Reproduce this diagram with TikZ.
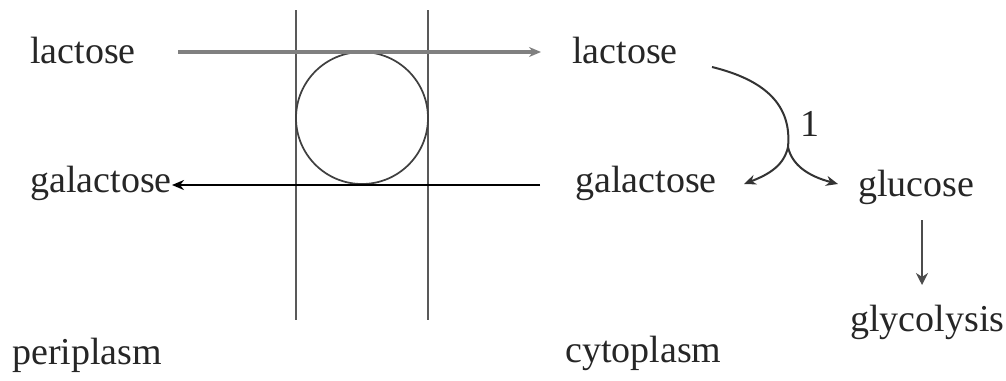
\documentclass[tikz,border=0pt]{standalone}
\usepackage{fontspec}
\setmainfont{Liberation Serif}
\usetikzlibrary{arrows.meta}
\begin{document}
\begin{tikzpicture}[x=0.75pt,y=-0.75pt,
  lbl/.style={anchor=west,inner sep=0pt,text=black!85,font=\fontsize{28.5}{32}\selectfont},
  tip/.style={-{Stealth[length=9pt,width=7.5pt]}},
  membrane/.style={draw=black!65,line width=2pt},
]
\useasboundingbox (0,0) rectangle (1006,380);
% texts
\node[lbl] (lacL) at (30,50) {lactose};
\node[lbl] (galL) at (30,183) {galactose};
\node[lbl] (lacR) at (572,50) {lactose};
\node[lbl] (galR) at (575,183) {galactose};
\node[lbl] (glu) at (858,187) {glucose};
\node[lbl] (gly) at (850,322) {glycolysis};
\node[lbl] (peri) at (12,355) {periplasm};
\node[lbl] (cyto) at (565,353) {cytoplasm};
\node[lbl,anchor=center] (one) at (810,124) {1};
% membrane
\coordinate (m1t) at (296,10); \coordinate (m1b) at (296,320);
\coordinate (m2t) at (428,10); \coordinate (m2b) at (428,320);
\draw[membrane] (m1t) -- (m1b);
\draw[membrane] (m2t) -- (m2b);
\node[draw=black!75,line width=1.3pt,circle,minimum size=132*0.75pt,inner sep=0pt] (carrier) at (362,118) {};
% transport arrows
\coordinate (a1s) at (178,52); \coordinate (a1e) at (541,52);
\draw[tip,draw=black!50,fill=black!50,line width=3pt] (a1s) -- (a1e);
\coordinate (a2s) at (540,185); \coordinate (a2e) at (172,185);
\draw[tip,draw=black,line width=2pt] (a2s) -- (a2e);
% hydrolysis
\coordinate (cs) at (712,67);
\coordinate (cj) at (788,147);
\coordinate (tl) at (744,184);
\coordinate (tr) at (838,184);
\draw[black!80,line width=1.5pt] (cs) .. controls (765,80) and (792,105) .. (cj);
\draw[tip,black!80,line width=1.5pt] (cj) .. controls (784,165) and (770,174) .. (tl);
\draw[tip,black!80,line width=1.5pt] (cj) .. controls (792,165) and (808,176) .. (tr);
% glycolysis arrow
\coordinate (g1) at (922,220); \coordinate (g2) at (922,285);
\draw[-{Stealth[length=9pt,width=9pt]},black!70,line width=1.8pt] (g1) -- (g2);
\end{tikzpicture}
\end{document}
